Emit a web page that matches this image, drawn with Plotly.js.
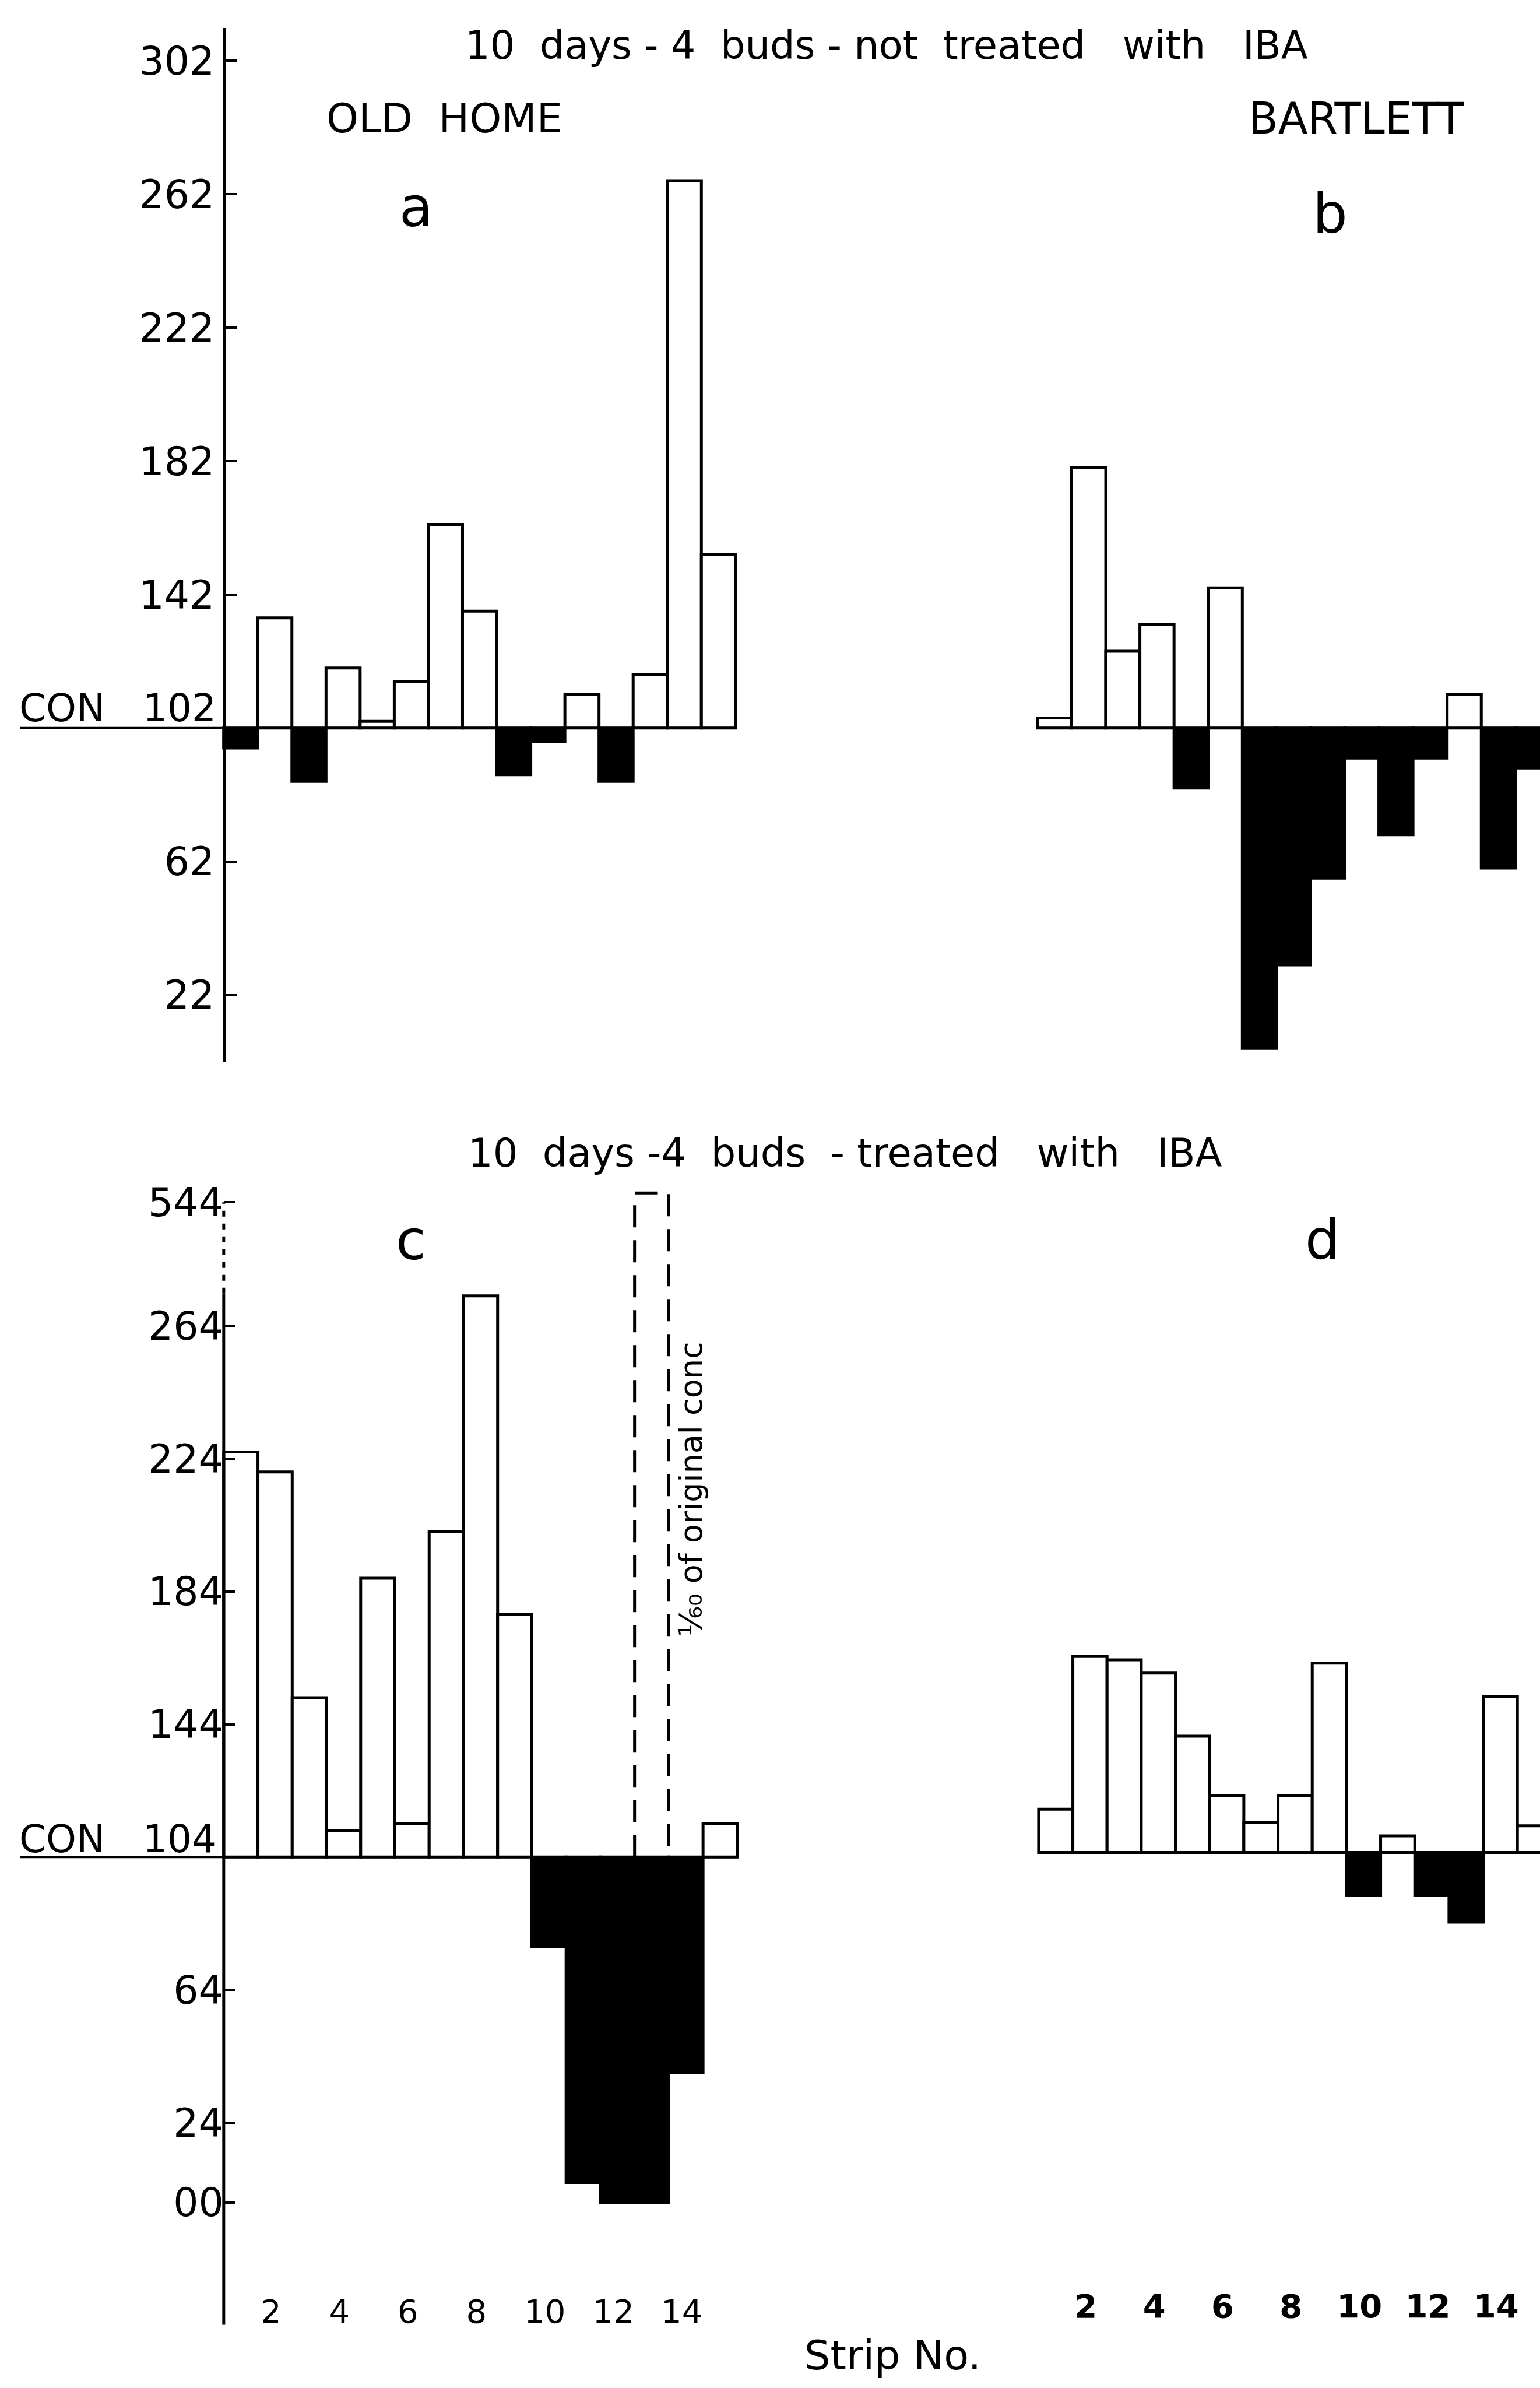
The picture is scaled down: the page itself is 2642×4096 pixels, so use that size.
<!DOCTYPE html>
<html>
<head>
<meta charset="utf-8">
<script src="https://cdn.plot.ly/plotly-3.0.1.min.js"></script>
<style>
  html, body { margin: 0; padding: 0; background: #ffffff; }
  #chart { width: 2642px; height: 4096px; }
</style>
</head>
<body>
<div id="chart"></div>
<script>
// ---------------- DATA ----------------
const strips = [1, 2, 3, 4, 5, 6, 7, 8, 9, 10, 11, 12, 13, 14, 15];

// 10 days - 4 buds - not treated with IBA
const controlUntreated = 102;
const oldHomeUntreated  = [96, 135, 86, 120, 104, 116, 163, 137, 88, 98, 112, 86, 118, 266, 154];
const bartlettUntreated = [105, 180, 125, 133, 84, 144, 6, 31, 57, 93, 70, 93, 112, 60, 90];

// 10 days - 4 buds - treated with IBA
const controlTreated = 104;
const oldHomeTreated  = [226, 220, 152, 112, 188, 114, 202, 273, 177, 77, 6, 0, 0, 39, 114];
const bartlettTreated = [117, 163, 162, 158, 139, 121, 113, 121, 161, 91, 109, 91, 83, 151, 112];

// strip shown at 1/60 of original concentration (dashed), on the broken part of the scale
const dilutedStrip = 13;
const dilutedValue = 304;

// axis ticks
const yTicksUntreated    = [22, 62, 142, 182, 222, 262, 302];
const yTickTextUntreated = ["22", "62", "142", "182", "222", "262", "302"];
const yTicksTreated      = [0, 24, 64, 144, 184, 224, 264, 301.2];
const yTickTextTreated   = ["00", "24", "64", "144", "184", "224", "264", "544"];
const axisBreakTreated   = 273.7;   // axis is dotted above this (scale break up to 544)
const xTickStrips        = [2, 4, 6, 8, 10, 12, 14];
const xTickText          = ["2", "4", "6", "8", "10", "12", "14"];

// ---------------- LAYOUT HELPERS ----------------
const W = 2657, H = 4120;                 // reference pixel frame
const fx = px => px / W;                  // paper x from reference px
const fy = py => 1 - py / H;              // paper y from reference px
const FONT = "DejaVu Sans";
const LW = 5;

function barTrace(values, control, xa, ya) {
  return {
    type: "bar",
    x: strips.map(s => s - 0.5),
    y: values.map(v => v - control),
    base: values.map(() => control),
    width: 1,
    marker: {
      color: values.map(v => (v >= control ? "#ffffff" : "#000000")),
      line: { color: "#000000", width: LW }
    },
    xaxis: xa, yaxis: ya,
    hoverinfo: "skip", showlegend: false
  };
}

const dashedTrace = {
  type: "scatter", mode: "lines",
  x: [dilutedStrip - 1, dilutedStrip - 1, dilutedStrip, dilutedStrip],
  y: [controlTreated, dilutedValue, dilutedValue, controlTreated],
  line: { color: "#000000", width: LW, dash: "38px,22px" },
  xaxis: "x3", yaxis: "y3", hoverinfo: "skip", showlegend: false
};

const data = [
  barTrace(oldHomeUntreated, controlUntreated, "x", "y"),
  barTrace(bartlettUntreated, controlUntreated, "x2", "y2"),
  barTrace(oldHomeTreated, controlTreated, "x3", "y3"),
  barTrace(bartlettTreated, controlTreated, "x4", "y4"),
  dashedTrace
];

// axis ranges (from pixel geometry of the reference)
const rangeXA = [-(386 - 34) / 58.9, 15 + (1290 - 1269) / 58.9];
const rangeXB = [-(1790 - 1700) / 58.9, (2657 - 1790) / 58.9];
const rangeXC = [-(386 - 34) / 59.07, (1290 - 386) / 59.07];
const rangeXD = [-(1792 - 1700) / 59.0, (2657 - 1792) / 59.0];
const rangeYA = [controlUntreated - (1832 - 1256) / 5.757, controlUntreated + (1256 - 48) / 5.757];
const rangeYC = [controlTreated - (4011 - 3204) / 5.729, controlTreated + (3204 - 2040) / 5.729];
const rangeYD = [controlTreated - (3500 - 3196) / 5.729, controlTreated + (3196 - 2700) / 5.729];

const tickFontY = { family: FONT, size: 68, color: "#000000" };

const yAxisCommon = {
  showgrid: false, zeroline: false, automargin: false, fixedrange: true,
  ticks: "inside", ticklen: 19, tickwidth: 4, tickcolor: "#000000",
  tickfont: tickFontY, tickmode: "array"
};
const hiddenAxis = { visible: false, showgrid: false, zeroline: false, automargin: false, fixedrange: true };

const layout = {
  width: 2642, height: 4096,
  margin: { l: 0, r: 0, t: 0, b: 0, pad: 0 },
  paper_bgcolor: "#ffffff", plot_bgcolor: "rgba(0,0,0,0)",
  barmode: "overlay", showlegend: false,
  font: { family: FONT, color: "#000000" },

  xaxis:  Object.assign({}, hiddenAxis, { domain: [fx(34), fx(1290)], range: rangeXA, anchor: "y" }),
  xaxis2: Object.assign({}, hiddenAxis, { domain: [fx(1700), 1], range: rangeXB, anchor: "y2" }),
  xaxis3: { domain: [fx(34), fx(1290)], range: rangeXC, anchor: "free", position: fy(3950),
            showgrid: false, zeroline: false, showline: false, ticks: "", automargin: false, fixedrange: true,
            tickmode: "array", tickvals: xTickStrips.map(s => s - 0.62), ticktext: xTickText,
            tickfont: { family: FONT, size: 56, color: "#000000" } },
  xaxis4: { domain: [fx(1700), 1], range: rangeXD, anchor: "free", position: fy(3941),
            showgrid: false, zeroline: false, showline: false, ticks: "", automargin: false, fixedrange: true,
            tickmode: "array", tickvals: xTickStrips.map(s => s - 0.62), ticktext: xTickText,
            tickfont: { family: FONT, size: 56, color: "#000000", weight: "bold" } },

  yaxis:  Object.assign({}, yAxisCommon, { domain: [fy(1832), fy(48)], range: rangeYA, anchor: "free",
            position: fx(386), showline: true, linewidth: LW, linecolor: "#000000",
            tickvals: yTicksUntreated, ticktext: yTickTextUntreated }),
  yaxis2: Object.assign({}, hiddenAxis, { domain: [fy(1832), fy(48)], range: rangeYA, anchor: "x2" }),
  yaxis3: Object.assign({}, yAxisCommon, { domain: [fy(4011), fy(2040)], range: rangeYC, anchor: "free",
            position: fx(386), showline: false,
            tickvals: yTicksTreated, ticktext: yTickTextTreated }),
  yaxis4: Object.assign({}, hiddenAxis, { domain: [fy(3500), fy(2700)], range: rangeYD, anchor: "x4" }),

  shapes: [
    // control (CON) lines
    { type: "line", xref: "x",  yref: "y",  x0: rangeXA[0], x1: strips.length, y0: controlUntreated, y1: controlUntreated, line: { color: "#000", width: 4 } },
    { type: "line", xref: "x2", yref: "y2", x0: 0, x1: rangeXB[1], y0: controlUntreated, y1: controlUntreated, line: { color: "#000", width: 4 } },
    { type: "line", xref: "x3", yref: "y3", x0: rangeXC[0], x1: strips.length, y0: controlTreated, y1: controlTreated, line: { color: "#000", width: 4 } },
    { type: "line", xref: "x4", yref: "y4", x0: 0, x1: rangeXD[1], y0: controlTreated, y1: controlTreated, line: { color: "#000", width: 4 } },
    // panel c y-axis: solid part and dotted (broken scale) part
    { type: "line", xref: "x3", yref: "y3", x0: 0, x1: 0, y0: rangeYC[0], y1: axisBreakTreated, line: { color: "#000", width: LW } },
    { type: "line", xref: "x3", yref: "y3", x0: 0, x1: 0, y0: axisBreakTreated, y1: yTicksTreated[yTicksTreated.length - 1], line: { color: "#000", width: LW, dash: "10px,12px" } }
  ],

  annotations: [
    { text: "10\u00a0\u00a0days\u00a0-\u00a04\u00a0\u00a0buds\u00a0-\u00a0not\u00a0\u00a0treated\u00a0\u00a0\u00a0with\u00a0\u00a0\u00a0IBA",
      xref: "paper", yref: "paper", x: fx(1530), y: fy(78), xanchor: "center", yanchor: "middle",
      showarrow: false, font: { family: FONT, size: 67, color: "#000" } },
    { text: "OLD\u00a0\u00a0HOME", xref: "paper", yref: "paper", x: fx(767), y: fy(204), xanchor: "center", yanchor: "middle",
      showarrow: false, font: { family: FONT, size: 70, color: "#000" } },
    { text: "BARTLETT", xref: "paper", yref: "paper", x: fx(2341), y: fy(204), xanchor: "center", yanchor: "middle",
      showarrow: false, font: { family: FONT, size: 74, color: "#000" } },
    { text: "a", xref: "paper", yref: "paper", x: fx(718), y: fy(358), xanchor: "center", yanchor: "middle",
      showarrow: false, font: { family: FONT, size: 94, color: "#000" } },
    { text: "b", xref: "paper", yref: "paper", x: fx(2295), y: fy(369), xanchor: "center", yanchor: "middle",
      showarrow: false, font: { family: FONT, size: 94, color: "#000" } },
    { text: "CON", xref: "paper", yref: "paper", x: fx(31), y: fy(1222), xanchor: "left", yanchor: "middle",
      showarrow: false, font: { family: FONT, size: 66, color: "#000" } },
    { text: String(controlUntreated), xref: "paper", yref: "paper", x: fx(375), y: fy(1222), xanchor: "right", yanchor: "middle",
      showarrow: false, font: { family: FONT, size: 66, color: "#000" } },

    { text: "10\u00a0\u00a0days\u00a0-4\u00a0\u00a0buds\u00a0\u00a0-\u00a0treated\u00a0\u00a0\u00a0with\u00a0\u00a0\u00a0IBA",
      xref: "paper", yref: "paper", x: fx(1458), y: fy(1990), xanchor: "center", yanchor: "middle",
      showarrow: false, font: { family: FONT, size: 67, color: "#000" } },
    { text: "c", xref: "paper", yref: "paper", x: fx(709), y: fy(2140), xanchor: "center", yanchor: "middle",
      showarrow: false, font: { family: FONT, size: 94, color: "#000" } },
    { text: "d", xref: "paper", yref: "paper", x: fx(2282), y: fy(2139), xanchor: "center", yanchor: "middle",
      showarrow: false, font: { family: FONT, size: 94, color: "#000" } },
    { text: "\u00b9\u2044\u2086\u2080 of original conc", xref: "paper", yref: "paper", x: fx(1192), y: fy(2569),
      xanchor: "center", yanchor: "middle", textangle: -90,
      showarrow: false, font: { family: FONT, size: 54, color: "#000" } },
    { text: "CON", xref: "paper", yref: "paper", x: fx(31), y: fy(3173), xanchor: "left", yanchor: "middle",
      showarrow: false, font: { family: FONT, size: 66, color: "#000" } },
    { text: String(controlTreated), xref: "paper", yref: "paper", x: fx(375), y: fy(3173), xanchor: "right", yanchor: "middle",
      showarrow: false, font: { family: FONT, size: 66, color: "#000" } },
    { text: "Strip No.", xref: "paper", yref: "paper", x: fx(1540), y: fy(4064), xanchor: "center", yanchor: "middle",
      showarrow: false, font: { family: FONT, size: 70, color: "#000" } }
  ]
};

Plotly.newPlot("chart", data, layout, { staticPlot: true, displayModeBar: false });
</script>
</body>
</html>
